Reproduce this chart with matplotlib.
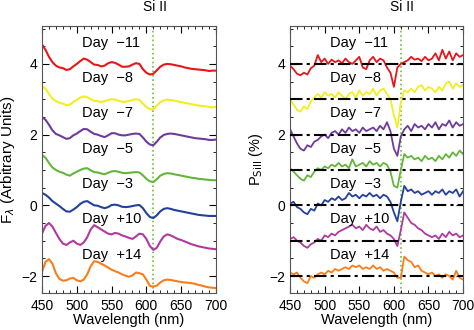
import numpy as np
import matplotlib.pyplot as plt
from matplotlib.ticker import MultipleLocator

plt.rcParams['font.family'] = ['Liberation Sans', 'DejaVu Sans']

wave = np.arange(450, 701, 5)

days = ['Day  \u221211', 'Day  \u22128', 'Day  \u22127', 'Day  \u22125',
        'Day  \u22123', 'Day  +10', 'Day  +14']
colors = ['#e8161b', '#f2ee1f', '#6f3a9e', '#63b63a', '#22409c', '#b03a9f', '#fb7d1a']
baselines = [4, 3, 2, 1, 0, -1, -2]

# flux spectra (offset), left panel
flux_m11 = [4.55, 4.4, 4.2, 4.05, 3.95, 3.9, 3.88, 3.83, 3.85, 3.93, 4.0, 4.08, 4.15, 4.12, 4.05, 3.98,
            3.97, 3.93, 3.95, 4.02, 4.05, 4.03, 3.98, 3.92, 3.92, 3.93, 3.98, 4.02, 4.0, 3.85, 3.75, 3.7,
            3.72, 3.82, 3.92, 3.98, 4.0, 3.99, 3.97, 3.95, 3.93, 3.9, 3.88, 3.86, 3.85, 3.84, 3.83, 3.82,
            3.8, 3.81, 3.81]
flux_m8 = [3.38, 3.3, 3.15, 3.02, 2.95, 2.9, 2.88, 2.83, 2.85, 2.92, 2.98, 3.05, 3.08, 3.06, 3.0, 2.95,
           2.95, 2.92, 2.95, 2.98, 3.0, 2.99, 2.96, 2.93, 2.93, 2.95, 2.98, 3.0, 2.98, 2.88, 2.78, 2.72,
           2.72, 2.82, 2.92, 2.97, 2.99, 2.98, 2.96, 2.94, 2.92, 2.9, 2.88, 2.86, 2.84, 2.82, 2.81, 2.8,
           2.78, 2.77, 2.78]
flux_m7 = [2.5, 2.42, 2.28, 2.12, 2.02, 1.98, 1.93, 1.88, 1.9, 1.98, 2.03, 2.1, 2.16, 2.15, 2.08, 2.02,
           2.0, 1.96, 1.93, 1.98, 2.04, 2.04, 2.0, 1.98, 1.98, 2.0, 2.02, 2.03, 2.02, 1.92, 1.8, 1.72,
           1.7, 1.8, 1.92, 1.99, 2.02, 2.03, 2.02, 2.0, 1.98, 1.96, 1.94, 1.92, 1.9, 1.89, 1.88, 1.87,
           1.85, 1.85, 1.86]
flux_m5 = [1.42, 1.35, 1.2, 1.07, 1.0, 0.95, 0.92, 0.87, 0.84, 0.9, 0.95, 1.0, 1.04, 1.05, 0.99, 0.94,
           0.93, 0.9, 0.88, 0.92, 0.96, 0.97, 0.95, 0.92, 0.91, 0.92, 0.93, 0.94, 0.93, 0.85, 0.75, 0.68,
           0.66, 0.74, 0.84, 0.89, 0.91, 0.9, 0.88, 0.86, 0.84, 0.82, 0.8, 0.78, 0.77, 0.75, 0.74, 0.73,
           0.72, 0.71, 0.71]
flux_m3 = [0.35, 0.3, 0.22, 0.12, 0.05, -0.02, -0.1, -0.17, -0.18, -0.12, -0.05, 0.04, 0.1, 0.12, 0.06, 0.0,
           -0.01, -0.05, -0.08, -0.05, 0.01, 0.02, 0.0, -0.04, -0.05, -0.04, -0.02, 0.0, 0.01, -0.08, -0.22,
           -0.33, -0.36, -0.28, -0.17, -0.1, -0.08, -0.1, -0.13, -0.15, -0.17, -0.19, -0.21, -0.23, -0.25,
           -0.27, -0.28, -0.29, -0.3, -0.3, -0.3]
flux_p10 = [-0.8, -0.58, -0.5, -0.6, -0.78, -0.95, -1.08, -1.12, -1.05, -1.0, -1.08, -1.12, -1.05, -0.9,
            -0.68, -0.56, -0.62, -0.68, -0.74, -0.8, -0.82, -0.78, -0.8, -0.85, -0.88, -0.92, -0.95, -0.88,
            -0.8, -0.82, -0.95, -1.15, -1.26, -1.2, -1.02, -0.88, -0.82, -0.85, -0.9, -0.95, -0.98, -1.02,
            -1.06, -1.1, -1.13, -1.16, -1.18, -1.2, -1.22, -1.23, -1.24]
flux_p14 = [-1.88, -1.6, -1.52, -1.65, -1.92, -2.08, -2.13, -2.12, -2.07, -2.05, -2.12, -2.15, -2.1, -1.95,
            -1.72, -1.58, -1.6, -1.65, -1.7, -1.76, -1.82, -1.86, -1.9, -1.95, -1.99, -2.02, -1.98, -1.9,
            -1.92, -1.95, -2.1, -2.28, -2.3, -2.27, -2.18, -2.12, -2.1, -2.11, -2.13, -2.15, -2.17, -2.18,
            -2.19, -2.2, -2.22, -2.25, -2.27, -2.3, -2.32, -2.33, -2.34]

# Si II polarization (offset), right panel
pol_m11 = [3.95, 3.85, 3.72, 3.68, 3.75, 3.7, 3.88, 3.95, 4.25, 4.05, 4.15, 4.0, 4.12, 4.05, 4.1, 4.02,
           4.15, 4.05, 4.0, 4.1, 4.2, 3.9, 3.85, 4.1, 4.2, 4.05, 4.15, 4.1, 3.9, 3.75, 3.35, 3.9,
           4.0, 4.05, 4.1, 4.2, 4.12, 4.15, 4.08, 4.2, 4.1, 4.15, 4.3, 4.1, 4.4, 4.15, 4.35, 4.1,
           4.3, 4.2, 4.25]
pol_m8 = [3.0, 2.85, 2.7, 2.65, 2.8, 2.72, 2.95, 3.05, 3.15, 3.05, 3.2, 3.1, 3.15, 3.05, 3.2, 3.1,
          3.0, 3.15, 3.2, 3.05, 3.25, 3.1, 3.2, 3.15, 3.3, 3.1, 3.25, 3.3, 3.15, 3.0, 2.55, 2.2,
          2.9, 3.25, 3.2, 3.3, 3.2, 3.35, 3.4, 3.25, 3.35, 3.3, 3.2, 3.35, 3.25, 3.45, 3.5, 3.3,
          3.45, 3.35, 3.4]
pol_m7 = [2.15, 1.95, 1.75, 1.6, 1.55, 1.7, 1.65, 1.8, 1.85, 1.95, 2.0, 1.9, 2.05, 2.1, 2.0, 2.15,
          2.05, 2.2, 2.1, 2.15, 2.05, 2.2, 2.1, 2.15, 2.2, 2.1, 2.25, 2.15, 2.35, 2.1, 1.6, 1.4,
          1.95, 2.15, 2.25, 2.1, 2.3, 2.2, 2.25, 2.15, 2.3, 2.2, 2.35, 2.15, 2.3, 2.25, 2.4, 2.2,
          2.35, 2.25, 2.3]
pol_m5 = [1.05, 0.95, 0.85, 0.75, 0.7, 0.85, 0.8, 0.95, 1.05, 1.0, 1.1, 1.05, 1.15, 1.1, 1.2, 1.1,
          1.15, 1.05, 1.3, 1.1, 1.15, 1.2, 1.1, 1.25, 1.15, 1.2, 1.1, 1.2, 1.15, 0.95, 0.55, 0.5,
          1.0, 1.45, 1.35, 1.4, 1.3, 1.35, 1.25, 1.4, 1.3, 1.35, 1.25, 1.4, 1.3, 1.45, 1.35, 1.5,
          1.4, 1.55, 1.45]
pol_m3 = [0.05, 0.1, -0.05, -0.1, -0.2, -0.25, -0.1, -0.15, 0.05, 0.0, 0.15, 0.1, 0.2, 0.15, 0.25, 0.15,
          0.2, 0.35, 0.25, 0.3, 0.2, 0.3, 0.25, 0.35, 0.25, 0.3, 0.2, 0.3, 0.25, 0.1, -0.2, -0.45,
          0.1, 0.55, 0.4, 0.45, 0.35, 0.4, 0.3, 0.35, 0.4, 0.3, 0.4, 0.35, 0.45, 0.3, 0.4, 0.35,
          0.45, 0.25, 0.4]
pol_p10 = [-0.95, -0.9, -1.0, -1.05, -1.15, -1.2, -1.1, -1.05, -0.95, -1.0, -0.85, -0.9, -0.8, -0.85, -0.75,
           -0.7, -0.65, -0.6, -0.55, -0.65, -0.6, -0.7, -0.55, -0.65, -0.7, -0.6, -0.75, -0.7, -0.8, -0.85,
           -0.95, -1.15, -0.7, -0.2, -0.35, -0.5, -0.55, -0.65, -0.7, -0.8, -0.85, -0.9, -0.85, -0.95,
           -0.8, -0.9, -0.75, -0.85, -0.8, -0.9, -0.85]
pol_p14 = [-1.9, -1.95, -1.9, -2.05, -2.15, -2.2, -2.0, -2.05, -1.95, -1.9, -1.95, -1.85, -1.9, -1.8, -1.85,
           -1.8, -1.75, -1.8, -1.7, -1.75, -1.7, -1.8, -1.75, -1.8, -1.7, -1.8, -1.75, -1.85, -1.8, -1.85,
           -1.9, -2.05, -2.05, -1.45, -1.55, -1.6, -1.75, -1.7, -1.85, -1.9, -1.95, -1.9, -2.0, -1.95,
           -2.05, -1.95, -2.0, -2.1, -1.85, -2.05, -2.1]

flux = [flux_m11, flux_m8, flux_m7, flux_m5, flux_m3, flux_p10, flux_p14]
pol = [pol_m11, pol_m8, pol_m7, pol_m5, pol_m3, pol_p10, pol_p14]
label_y = [4.6, 3.6, 2.6, 1.6, 0.6, -0.4, -1.4]
si_line = 610

fig = plt.figure(figsize=(4.74, 3.30), dpi=100)
ax1 = fig.add_axes([0.0886, 0.112, 0.367, 0.809])
ax2 = fig.add_axes([0.612, 0.112, 0.365, 0.809])

for i in range(7):
    ax1.plot(wave, flux[i], color=colors[i], lw=1.5)
    ax2.plot(wave, pol[i], color=colors[i], lw=1.3)
    ax2.axhline(baselines[i], color='black', lw=1.5, ls=(0, (6, 2, 1.5, 2)), zorder=3)
    for ax in (ax1, ax2):
        ax.text(508, label_y[i], days[i], fontsize=10.5, ha='left', va='center')

for ax in (ax1, ax2):
    ax.axvline(si_line, color='#6cbf3c', lw=1.2, ls=':', zorder=1)
    ax.set_xlim(450, 700)
    ax.set_ylim(-2.48, 5.07)
    ax.xaxis.set_major_locator(MultipleLocator(50))
    ax.xaxis.set_minor_locator(MultipleLocator(10))
    ax.yaxis.set_major_locator(MultipleLocator(2))
    ax.yaxis.set_minor_locator(MultipleLocator(0.5))
    ax.tick_params(which='both', direction='in', top=True, right=True, labelsize=10)
    ax.tick_params(axis='x', which='major', pad=4)
    ax.tick_params(which='major', length=5)
    ax.tick_params(which='minor', length=2.5)
    for s in ax.spines.values():
        s.set_color('#555555')
    ax.set_xlabel('Wavelength (nm)', fontsize=10.5, labelpad=0)
    ax.text(612, 1.07, 'Si II', transform=ax.get_xaxis_transform(),
            ha='center', va='center', fontsize=10)

ax1.set_ylabel(r'F$_\lambda$ (Arbitrary Units)', fontsize=11, labelpad=3)
ax2.set_ylabel(r'P$_{\rm SiII}$ (%)', fontsize=10.5, labelpad=3)

fig.savefig('out.png', dpi=100)
